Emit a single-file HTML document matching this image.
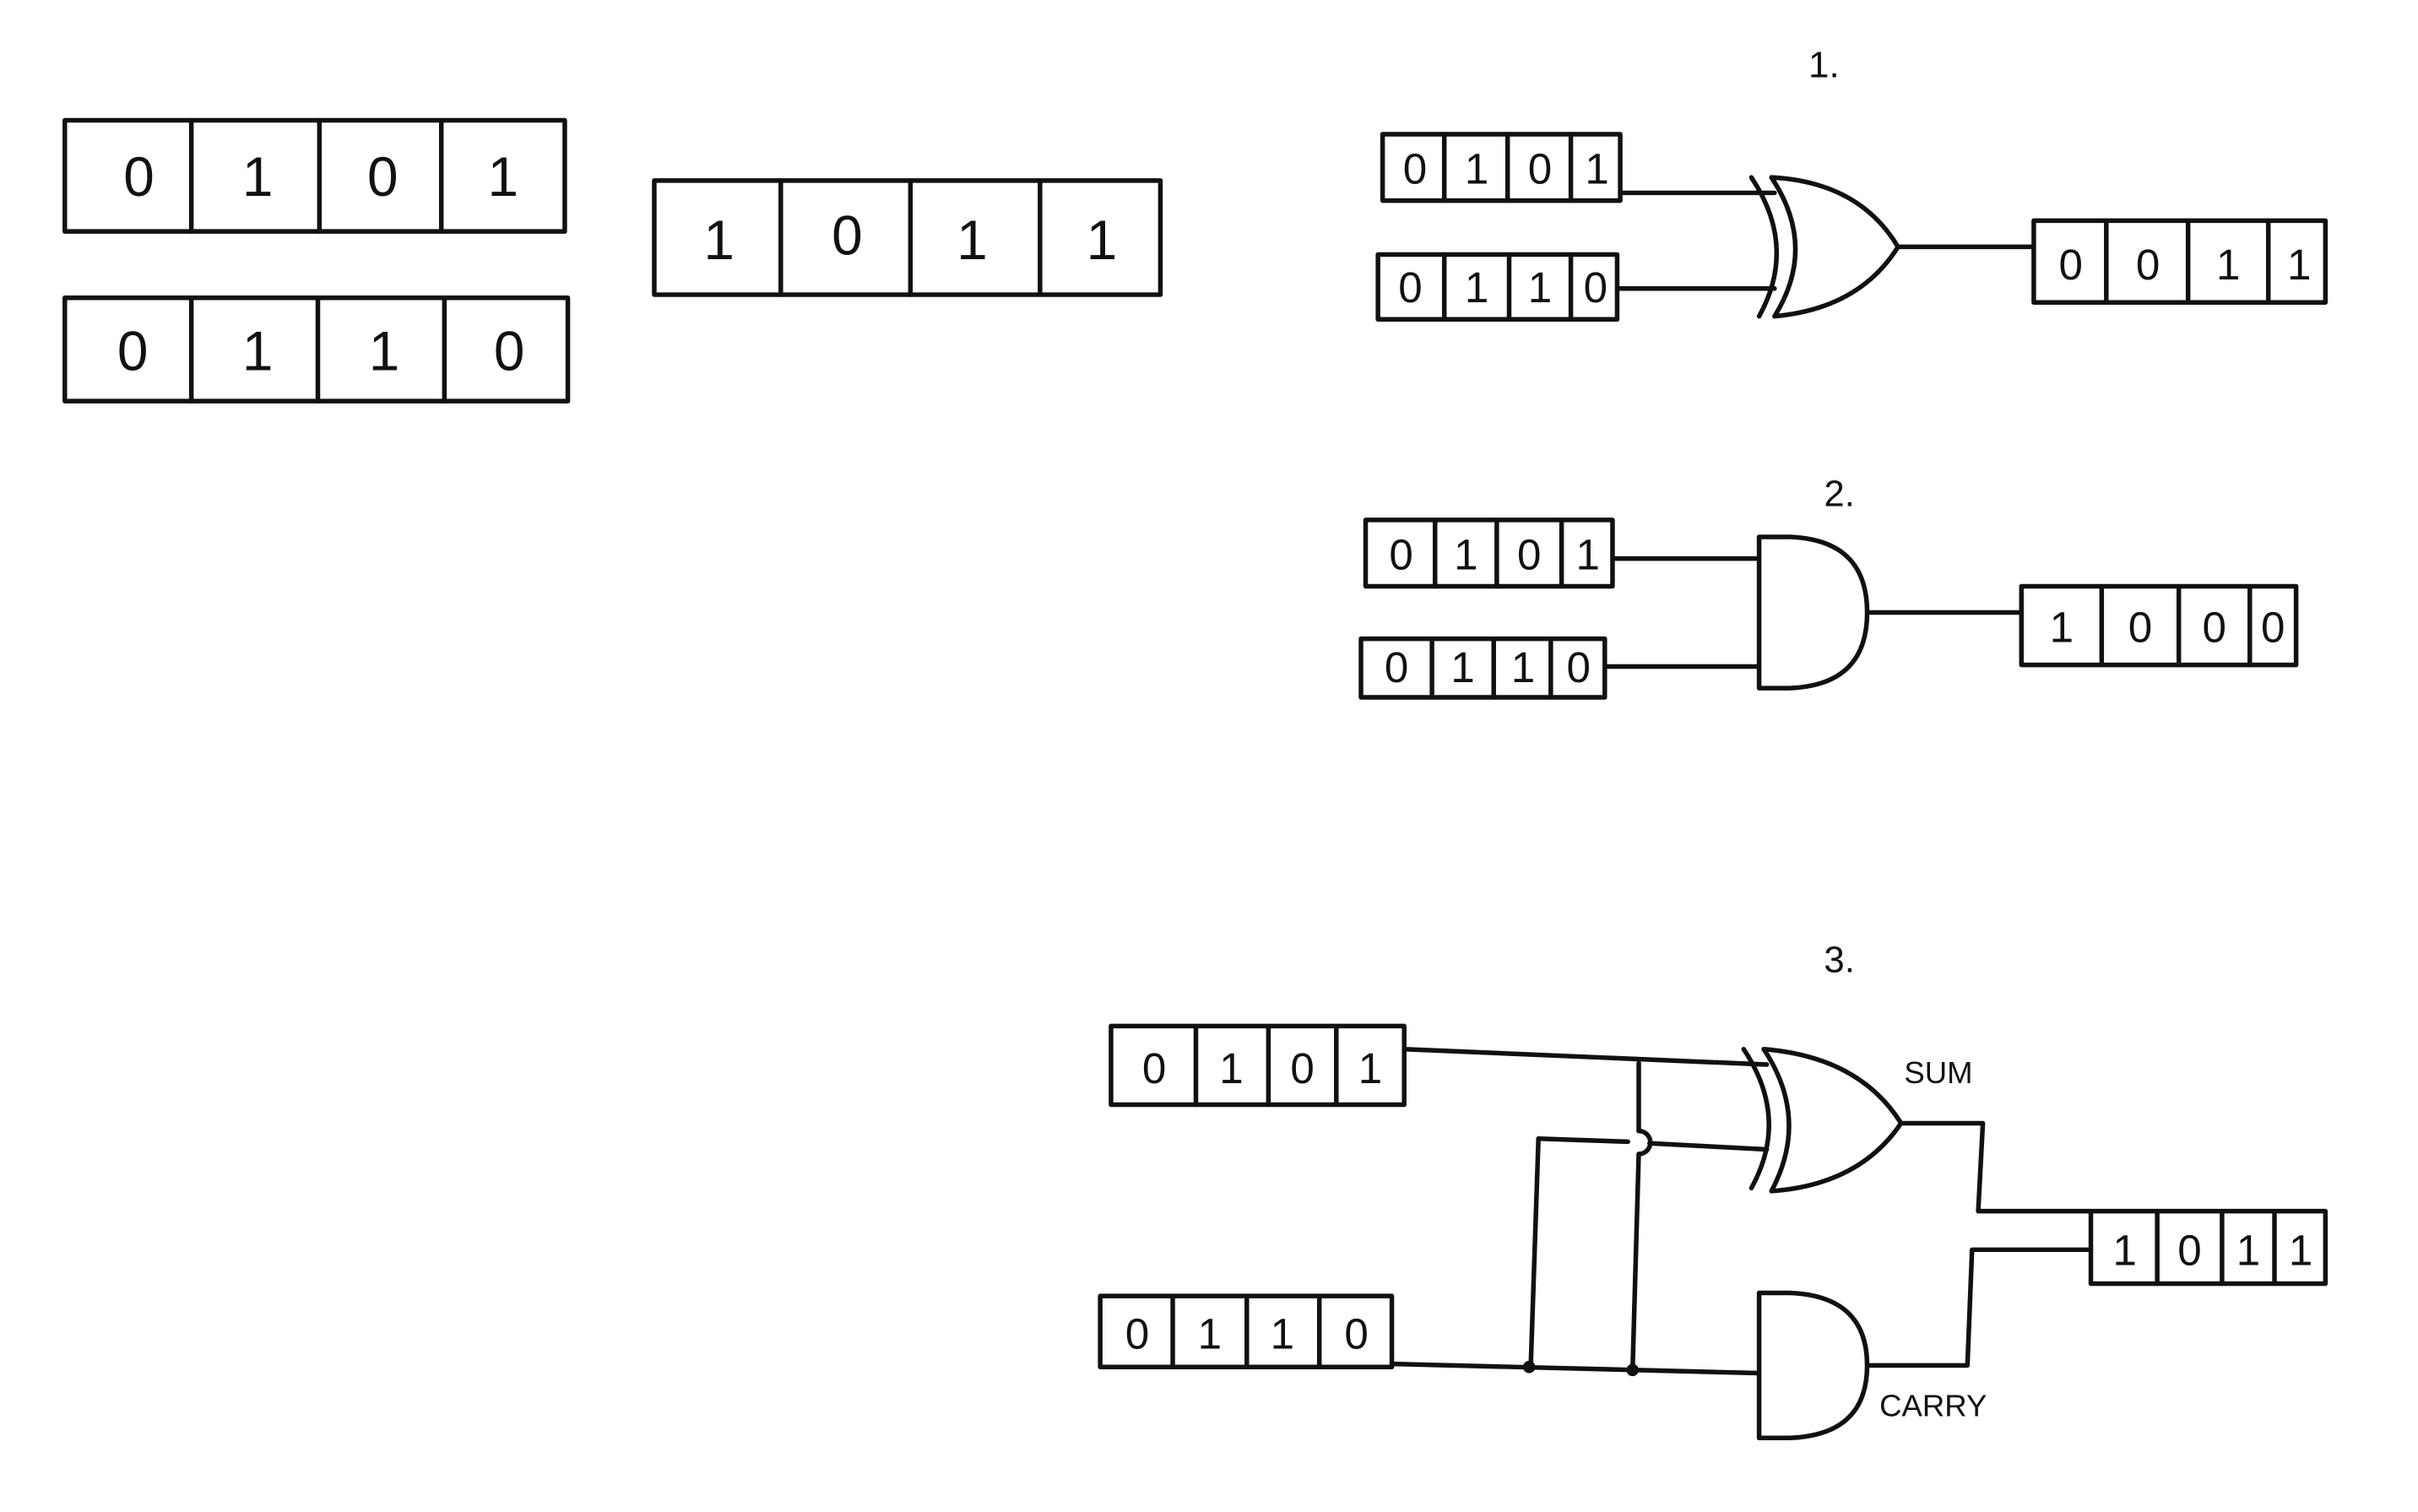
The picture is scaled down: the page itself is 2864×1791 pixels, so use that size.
<!DOCTYPE html>
<html><head><meta charset="utf-8"><style>
html,body{margin:0;padding:0;background:#fff;}
svg{display:block;}
text{font-family:"Liberation Sans",sans-serif;fill:#111;}
</style></head><body>
<svg width="2864" height="1791" viewBox="0 0 1567 980" preserveAspectRatio="none" xmlns="http://www.w3.org/2000/svg">
<g fill="none" stroke="#111" stroke-width="3" stroke-linecap="round" stroke-linejoin="round">
<rect x="42" y="78" width="324" height="72"/>
<line x1="124" y1="78" x2="124" y2="150"/><line x1="207" y1="78" x2="207" y2="150"/><line x1="286" y1="78" x2="286" y2="150"/>
<rect x="42" y="193" width="326" height="67"/>
<line x1="124" y1="193" x2="124" y2="260"/><line x1="206" y1="193" x2="206" y2="260"/><line x1="288" y1="193" x2="288" y2="260"/>
<rect x="424" y="117" width="328" height="74"/>
<line x1="506" y1="117" x2="506" y2="191"/><line x1="590" y1="117" x2="590" y2="191"/><line x1="674" y1="117" x2="674" y2="191"/>

<rect x="896" y="87" width="154" height="43"/>
<line x1="936" y1="87" x2="936" y2="130"/><line x1="977" y1="87" x2="977" y2="130"/><line x1="1018" y1="87" x2="1018" y2="130"/>
<rect x="893" y="165" width="155" height="42"/>
<line x1="936" y1="165" x2="936" y2="207"/><line x1="978" y1="165" x2="978" y2="207"/><line x1="1018" y1="165" x2="1018" y2="207"/>
<line x1="1050" y1="125" x2="1150" y2="125"/><line x1="1048" y1="187" x2="1150" y2="187"/>
<path d="M1135,115 Q1165,160 1140,205"/>
<path d="M1148,115 Q1178,160 1150,205 Q1205,200 1230,160 Q1205,118 1148,115 Z"/>
<line x1="1230" y1="160" x2="1318" y2="160"/>
<rect x="1318" y="143" width="189" height="53"/>
<line x1="1365" y1="143" x2="1365" y2="196"/><line x1="1418" y1="143" x2="1418" y2="196"/><line x1="1470" y1="143" x2="1470" y2="196"/>

<rect x="885" y="337" width="160" height="43"/>
<line x1="930" y1="337" x2="930" y2="380"/><line x1="970" y1="337" x2="970" y2="380"/><line x1="1012" y1="337" x2="1012" y2="380"/>
<rect x="882" y="414" width="158" height="38"/>
<line x1="928" y1="414" x2="928" y2="452"/><line x1="968" y1="414" x2="968" y2="452"/><line x1="1005" y1="414" x2="1005" y2="452"/>
<line x1="1045" y1="362" x2="1140" y2="362"/><line x1="1040" y1="432" x2="1140" y2="432"/>
<path d="M1140,348 L1160,348 Q1210,350 1210,397 Q1210,444 1160,446 L1140,446 Z"/>
<line x1="1210" y1="397" x2="1310" y2="397"/>
<rect x="1310" y="380" width="178" height="51"/>
<line x1="1362" y1="380" x2="1362" y2="431"/><line x1="1412" y1="380" x2="1412" y2="431"/><line x1="1458" y1="380" x2="1458" y2="431"/>

<rect x="720" y="665" width="190" height="51"/>
<line x1="775" y1="665" x2="775" y2="716"/><line x1="822" y1="665" x2="822" y2="716"/><line x1="866" y1="665" x2="866" y2="716"/>
<rect x="713" y="840" width="189" height="46"/>
<line x1="760" y1="840" x2="760" y2="886"/><line x1="808" y1="840" x2="808" y2="886"/><line x1="855" y1="840" x2="855" y2="886"/>
<line x1="910" y1="680" x2="1145" y2="690"/>
<line x1="1062" y1="689" x2="1062" y2="733"/>
<path d="M1062,733 A7,7 0 0 1 1062,748"/>
<line x1="1062" y1="748" x2="1058" y2="888"/>
<line x1="997" y1="738" x2="1055" y2="740"/>
<line x1="1069" y1="741" x2="1145" y2="745"/>
<line x1="997" y1="738" x2="992" y2="886"/>
<line x1="902" y1="884" x2="1140" y2="890"/>
<path d="M1130,680 Q1160,725 1135,770"/>
<path d="M1143,680 Q1173,725 1148,772 Q1205,768 1232,728 Q1205,685 1143,680 Z"/>
<polyline points="1232,728 1285,728 1282,785 1355,785"/>
<polyline points="1210,885 1275,885 1278,810 1355,810"/>
<path d="M1140,838 L1160,838 Q1210,840 1210,885 Q1210,930 1160,932 L1140,932 Z"/>
<rect x="1355" y="785" width="152" height="47"/>
<line x1="1398" y1="785" x2="1398" y2="832"/><line x1="1440" y1="785" x2="1440" y2="832"/><line x1="1474" y1="785" x2="1474" y2="832"/>
</g>
<circle cx="991" cy="886" r="4" fill="#111"/>
<circle cx="1058" cy="888" r="4" fill="#111"/>

<g font-size="36" text-anchor="middle">
<text x="90" y="127">0</text><text x="167" y="127">1</text><text x="248" y="127">0</text><text x="326" y="127">1</text>
<text x="86" y="240">0</text><text x="167" y="240">1</text><text x="249" y="240">1</text><text x="330" y="240">0</text>
<text x="466" y="168">1</text><text x="549" y="165">0</text><text x="630" y="168">1</text><text x="714" y="168">1</text>
</g>
<g font-size="28" text-anchor="middle">
<text x="917" y="119">0</text><text x="957" y="119">1</text><text x="998" y="119">0</text><text x="1035" y="119">1</text>
<text x="914" y="196">0</text><text x="957" y="196">1</text><text x="998" y="196">1</text><text x="1034" y="196">0</text>
<text x="1342" y="181">0</text><text x="1392" y="181">0</text><text x="1444" y="181">1</text><text x="1490" y="181">1</text>
<text x="908" y="369">0</text><text x="950" y="369">1</text><text x="991" y="369">0</text><text x="1029" y="369">1</text>
<text x="905" y="442">0</text><text x="948" y="442">1</text><text x="987" y="442">1</text><text x="1023" y="442">0</text>
<text x="1336" y="416">1</text><text x="1387" y="416">0</text><text x="1435" y="416">0</text><text x="1473" y="416">0</text>
<text x="748" y="702">0</text><text x="798" y="702">1</text><text x="844" y="702">0</text><text x="888" y="702">1</text>
<text x="737" y="874">0</text><text x="784" y="874">1</text><text x="831" y="874">1</text><text x="879" y="874">0</text>
<text x="1377" y="820">1</text><text x="1419" y="820">0</text><text x="1457" y="820">1</text><text x="1491" y="820">1</text>
</g>
<g font-size="24">
<text x="1172" y="50">1.</text>
<text x="1182" y="328">2.</text>
<text x="1182" y="630">3.</text>
</g>
<g font-size="20">
<text x="1234" y="702">SUM</text>
<text x="1218" y="918">CARRY</text>
</g>
</svg>
</body></html>
